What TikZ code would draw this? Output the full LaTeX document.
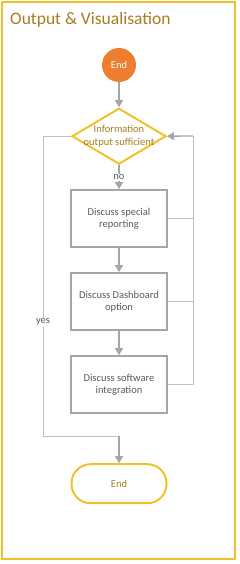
\documentclass[tikz,border=0pt]{standalone}
\usepackage{fontspec}
\setmainfont{Carlito}
\usetikzlibrary{positioning,shapes.geometric,arrows.meta}

\definecolor{amarillo}{RGB}{242,192,40}
\definecolor{naranja}{RGB}{237,125,49}
\definecolor{dorado}{RGB}{166,124,30}
\definecolor{gris}{RGB}{166,166,166}
\definecolor{grisclaro}{RGB}{191,191,191}
\definecolor{texto}{RGB}{89,89,89}

\begin{document}
\begin{tikzpicture}[
x=1pt, y=-1pt,
font=\fontsize{10.5}{12.5}\selectfont,
inicio/.style={
    circle,
    fill=naranja,
    text=white,
    minimum size=34pt,
    inner sep=0pt
},
decision/.style={
    diamond,
    draw=amarillo,
    line width=2pt,
    text=dorado,
    align=center,
    aspect=1.68,
    minimum width=94pt,
    minimum height=56pt,
    inner xsep=-20pt,
    inner ysep=0pt
},
proceso/.style={
    draw=gris,
    line width=2pt,
    text=texto,
    align=center,
    minimum width=96pt,
    minimum height=57pt,
    inner sep=0pt
},
terminal/.style={
    draw=amarillo,
    line width=2pt,
    rounded corners=19pt,
    text=dorado,
    minimum width=95pt,
    minimum height=39pt
},
flecha/.style={
    -{Triangle[width=8pt,length=7pt]},
    draw=gris,
    line width=1.3pt
},
linea/.style={
    draw=grisclaro,
    line width=1pt
},
etiqueta/.style={
    fill=white,
    text=texto,
    inner sep=1pt
}
]

\useasboundingbox (0,0) rectangle (240,564);

% Marco y titulo
\draw[amarillo, line width=2pt] (2,2) rectangle (235,559);
\node[anchor=base west, text=dorado, font=\fontsize{17.5}{21}\selectfont, inner sep=0pt] (titulo) at (10,25) {Output \& Visualisation};

% Flujo principal
\node[inicio] (comienzo) at (119,65) {End};
\node[decision, below=25pt of comienzo] (suficiente) {Information\\output sufficient};
\node[proceso, below=24pt of suficiente] (reportes) {Discuss special\\reporting};
\node[proceso, below=24pt of reportes] (dashboard) {Discuss Dashboard\\option};
\node[proceso, below=24pt of dashboard] (software) {Discuss software\\integration};
\node[terminal, below=49pt of software] (fin) {End};

% Flechas
\draw[flecha] (comienzo) -- (suficiente);
\draw[flecha] (suficiente) -- node[etiqueta, pos=0.5] {no} (reportes);
\draw[flecha] (reportes) -- (dashboard);
\draw[flecha] (dashboard) -- (software);

% Retorno
\coordinate (bucle) at (193,136);
\draw[linea] (reportes.east) -- (reportes.east -| bucle);
\draw[linea] (dashboard.east) -- (dashboard.east -| bucle);
\draw[linea] (software.east) -| (bucle);
\draw[flecha] (bucle) -- (suficiente.east);

% Rama yes
\coordinate (lado) at (43,436);
\draw[linea] (suficiente.west) -- (suficiente.west -| lado)
    -- node[etiqueta, pos=0.62] {yes} (lado) -- (lado -| fin.north);
\draw[flecha] (lado -| fin.north) -- (fin.north);

\end{tikzpicture}
\end{document}
